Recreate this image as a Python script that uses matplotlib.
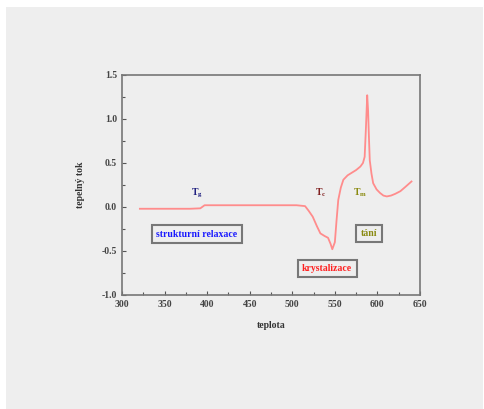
import matplotlib
matplotlib.use("Agg")
import matplotlib.pyplot as plt
from matplotlib.patches import Rectangle
from matplotlib.ticker import MultipleLocator

# data
temp = [321, 340, 360, 380, 392, 397, 420, 450, 480, 505, 515, 519, 524, 529, 533, 538, 542, 545, 547, 550,
        552, 554, 557, 560, 565, 570, 575, 580, 583, 585, 586.5, 588, 589, 590, 591, 593, 595, 599, 603, 607,
        611, 616, 621, 627, 633, 640]
heat = [-0.02, -0.02, -0.02, -0.02, -0.015, 0.02, 0.02, 0.02, 0.02, 0.02, 0.01, -0.04, -0.11, -0.22, -0.30, -0.33,
        -0.35, -0.42, -0.48, -0.40, -0.15, 0.08, 0.22, 0.31, 0.36, 0.39, 0.42, 0.46, 0.50, 0.57, 0.90, 1.27, 1.10,
        0.80, 0.53, 0.38, 0.27, 0.20, 0.16, 0.13, 0.12, 0.13, 0.15, 0.18, 0.23, 0.29]

xticks = [300, 350, 400, 450, 500, 550, 600, 650]
yticks = [-1.0, -0.5, 0.0, 0.5, 1.0, 1.5]
xlabel = "teplota"
ylabel = "tepelný tok"

labels = ["strukturní relaxace", "krystalizace", "tání"]
label_xy = [(388, -0.31), (541, -0.70), (590, -0.30)]
label_colors = ["#1a1aff", "#ff2020", "#8a8a10"]

marks = [("g", 388, 0.16, "#202080"), ("c", 533, 0.16, "#802020"), ("m", 580, 0.16, "#8a8a10")]

plt.rcParams['font.family'] = ['Liberation Serif', 'DejaVu Serif']

fig = plt.figure(figsize=(4.85, 4.09), dpi=100, facecolor="white")
fig.patches.append(Rectangle((6/485, 0), 477/485, 1 - 7/409, transform=fig.transFigure,
                             facecolor="#eeeeee", edgecolor="none", zorder=-10))
ax = fig.add_axes([122/485, 1 - 295/409, 298/485, (295 - 75)/409])
ax.set_facecolor("#eeeeee")

ax.plot(temp, heat, color="#ff8c8c", lw=1.3, solid_joinstyle="round")

ax.set_xlim(300, 650)
ax.set_ylim(-1.0, 1.5)
ax.set_xticks(xticks)
ax.set_yticks(yticks)
ax.xaxis.set_minor_locator(MultipleLocator(25))
ax.yaxis.set_minor_locator(MultipleLocator(0.25))
ax.set_xticklabels([str(v) for v in xticks], fontweight="bold")
ax.set_yticklabels([f"{v:.1f}" for v in yticks], fontweight="bold")
ax.tick_params(which="both", direction="in", colors="#555555", labelcolor="#444444", labelsize=7)
ax.tick_params(which="major", length=3, width=0.8)
ax.tick_params(which="minor", length=2, width=0.8)
for sp in ax.spines.values():
    sp.set_color("#777777")
    sp.set_linewidth(1.2)

ax.set_xlabel(xlabel, fontsize=7, fontweight="bold", color="#333333", labelpad=9)
ax.set_ylabel(ylabel, fontsize=7, fontweight="bold", color="#333333", labelpad=12)

for txt, (x, y), c in zip(labels, label_xy, label_colors):
    ax.text(x, y, txt, color=c, fontsize=7, fontweight="bold", ha="center", va="center",
            bbox=dict(boxstyle="square,pad=0.45", facecolor="#eeeeee", edgecolor="#777777", lw=1.5))

for sub, x, y, c in marks:
    ax.text(x, y, r"T$_{\mathregular{%s}}$" % sub, color=c, fontsize=7, fontweight="bold",
            ha="center", va="center")

fig.savefig("out.png", dpi=100, facecolor=fig.get_facecolor())
